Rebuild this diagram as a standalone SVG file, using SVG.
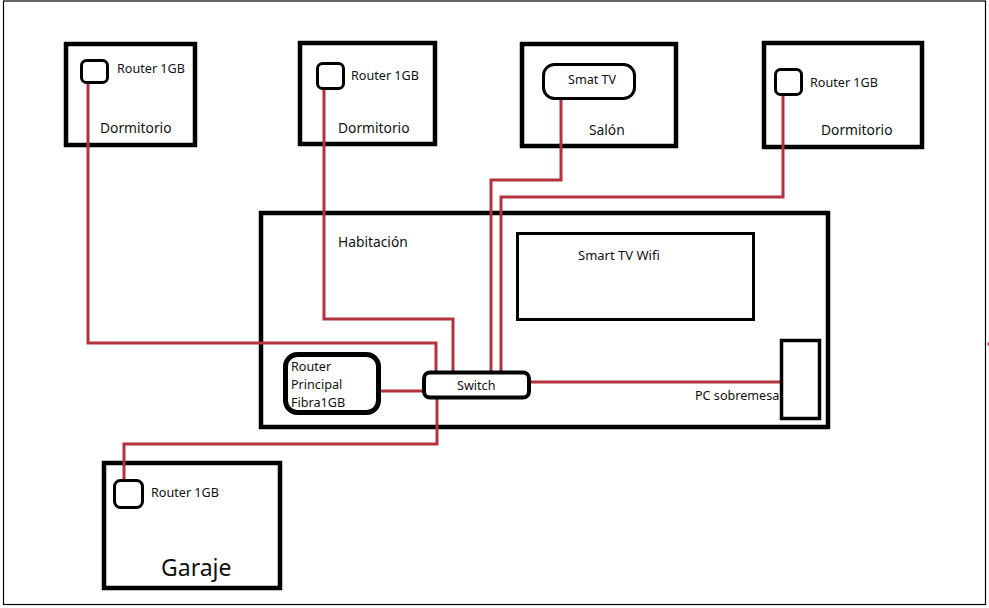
<svg xmlns="http://www.w3.org/2000/svg" width="989" height="608" viewBox="0 0 989 608">
<style>
text{font-family:"Noto Sans","Open Sans","DejaVu Sans",sans-serif;font-size:12.6px;fill:#111}
.label{font-size:13.8px}
.room{fill:none;stroke:#000;stroke-width:4.5}
.box{fill:none;stroke:#000;stroke-width:3}
.wire{fill:none;stroke:#b3323e;stroke-width:3}
</style>
<rect width="989" height="608" fill="#fff"/>
<rect x="3.500" y="1" width="982" height="603.500" fill="none" stroke="#000" stroke-width="1.200"/>
<g id="dormitorio-1"><rect class="room" x="66" y="44" width="129" height="101"/><text class="label" x="100" y="133">Dormitorio</text></g>
<g id="dormitorio-2"><rect class="room" x="300" y="43" width="135" height="101"/><text class="label" x="338" y="133">Dormitorio</text></g>
<g id="salon"><rect class="room" x="522" y="44" width="154" height="102"/><text class="label" x="589" y="135">Salón</text></g>
<g id="dormitorio-3"><rect class="room" x="764" y="43" width="158" height="104"/><text class="label" x="821" y="135">Dormitorio</text></g>
<g id="habitacion"><rect class="room" x="261" y="213" width="567" height="214"/><text class="label" x="338" y="247">Habitación</text></g>
<g id="garaje"><rect class="room" x="104" y="463" width="176" height="125"/><text x="161" y="576" style="font-size:23px">Garaje</text></g>
<g id="connectors">
<polyline class="wire" points="88,83 88,343 436,343 436,372"/>
<polyline class="wire" points="324,90 324,319 453,319 453,372"/>
<polyline class="wire" points="561,100 561,180 491,180 491,372"/>
<polyline class="wire" points="783,96 783,197 501,197 501,372"/>
<polyline class="wire" points="380,391 423,391"/>
<polyline class="wire" points="530,382 781,382"/>
<polyline class="wire" points="437,399 437,444 124,444 124,480"/>
<polyline class="wire" points="987.500,344 989,344"/>
</g>
<g id="router-1"><rect class="box" x="81.500" y="60.500" width="26" height="22" rx="5"/><text x="117" y="73">Router 1GB</text></g>
<g id="router-2"><rect class="box" x="317.500" y="63.500" width="26" height="25" rx="5"/><text x="351" y="80">Router 1GB</text></g>
<g id="smart-tv"><rect class="box" x="543.500" y="64.500" width="91" height="34" rx="11"/><text x="568" y="84">Smat TV</text></g>
<g id="router-3"><rect class="box" x="775.500" y="69.500" width="26" height="25" rx="5"/><text x="810" y="87">Router 1GB</text></g>
<g id="smart-tv-wifi"><rect class="box" x="517.500" y="233.500" width="236" height="86"/><text x="578" y="260" style="font-size:13px">Smart TV Wifi</text></g>
<g id="router-principal"><rect x="285.500" y="354.500" width="93" height="58" rx="12" fill="none" stroke="#000" stroke-width="5"/><text x="291" y="371">Router</text><text x="291" y="389">Principal</text><text x="291" y="407">Fibra1GB</text></g>
<g id="switch"><rect x="424" y="372.500" width="105" height="25" rx="6" fill="#fff" stroke="#000" stroke-width="4"/><text x="457" y="390">Switch</text></g>
<g id="pc"><rect x="781.500" y="340.500" width="38" height="78" fill="none" stroke="#000" stroke-width="3.500"/><text x="695" y="400">PC sobremesa</text></g>
<g id="router-garaje"><rect class="box" x="114.500" y="480.500" width="28" height="27" rx="6"/><text x="151" y="497">Router 1GB</text></g>
</svg>
